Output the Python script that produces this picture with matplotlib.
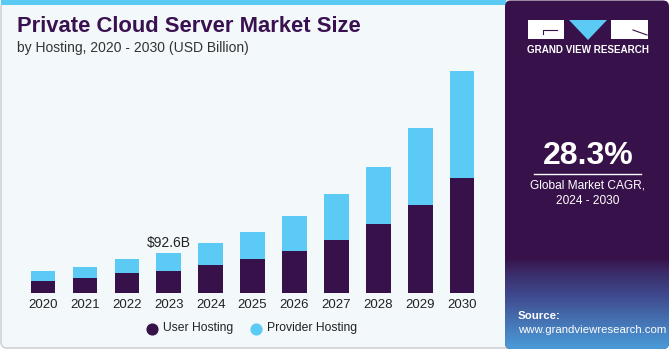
import numpy as np
import matplotlib.pyplot as plt
from matplotlib.patches import FancyBboxPatch, Rectangle, Polygon
from matplotlib.colors import LinearSegmentedColormap

years = ["2020", "2021", "2022", "2023", "2024", "2025", "2026", "2027", "2028", "2029", "2030"]
user_hosting = [28.7, 35.0, 45.9, 51.3, 65.3, 78.6, 98.0, 123.6, 160.2, 204.6, 269.0]
provider_hosting = [22.6, 26.4, 32.6, 41.3, 50.6, 63.7, 81.6, 107.3, 133.0, 180.3, 248.8]
label_year = "2023"
label_text = "$92.6B"
cagr = "28.3%"

dark = "#371149"
blue = "#5BCBF5"
panel_bg = "#F3F8FB"

plt.rcParams['font.family'] = ['Liberation Sans', 'DejaVu Sans']

W, H = 670, 350
fig = plt.figure(figsize=(W / 100, H / 100), dpi=100)
fig.patch.set_facecolor("white")

# background canvas in pixel coordinates
bg = fig.add_axes([0, 0, 1, 1])
bg.axis("off")

# left light panel
bg.add_patch(FancyBboxPatch((1, 1), 512, 347, boxstyle="round,pad=0,rounding_size=6",
                            facecolor=panel_bg, edgecolor="#D0D3D6", lw=1.2))
bg.add_patch(Rectangle((1, 0), 505, 5, facecolor=blue, edgecolor="none"))

# right purple panel with a bluish fade at the bottom
right_panel = FancyBboxPatch((505, 0.5), 164, 348.5, boxstyle="round,pad=0,rounding_size=6",
                             facecolor=dark, edgecolor="none")
bg.add_patch(right_panel)
grad = np.linspace(0, 1, 100).reshape(-1, 1) ** 0.8
cmap = LinearSegmentedColormap.from_list("g", [dark, "#3F4A8E", "#4B9BD8"])
im = bg.imshow(grad, extent=(505, 669, 349, 258), cmap=cmap, aspect="auto",
               origin="upper", zorder=1)
im.set_clip_path(right_panel)
bg.set_xlim(0, W)
bg.set_ylim(H, 0)

# logo
bg.add_patch(Rectangle((528, 20), 36, 19, facecolor="white", edgecolor="none", zorder=3))
bg.add_patch(Polygon([(569, 20), (607, 20), (588, 40)], facecolor=blue, edgecolor="none", zorder=3))
bg.add_patch(Rectangle((611, 20), 37, 19, facecolor="white", edgecolor="none", zorder=3))
bg.plot([543, 543, 557], [34, 30, 30], color=dark, lw=0.8, zorder=4)
bg.plot([633, 647], [30, 35], color=dark, lw=0.8, zorder=4)
bg.text(588, 50, "GRAND VIEW RESEARCH", color="white", fontsize=7.1, fontweight="bold",
        ha="center", va="center", zorder=4)

bg.text(588, 156, cagr, color="white", fontsize=23, fontweight="bold", ha="center", va="center", zorder=4)
bg.plot([534, 641], [174, 174], color="white", lw=1, zorder=4)
bg.text(588, 186, "Global Market CAGR,", color="white", fontsize=8.6, ha="center", va="center", zorder=4)
bg.text(588, 201, "2024 - 2030", color="white", fontsize=8.6, ha="center", va="center", zorder=4)
bg.text(518, 316, "Source:", color="white", fontsize=8.2, fontweight="bold", ha="left", va="center", zorder=4)
bg.text(518, 330, "www.grandviewresearch.com", color="white", fontsize=8.2, ha="left", va="center", zorder=4)

# titles
bg.text(17, 27, "Private Cloud Server Market Size", color="#3A1150", fontsize=15.8,
        fontweight="bold", ha="left", va="center")
bg.text(17, 48, "by Hosting, 2020 - 2030 (USD Billion)", color="#333333", fontsize=10,
        ha="left", va="center")

# bar chart axes: x center 2020 -> 42.8px, 2030 -> 462.3px; baseline at 293px
step = (462.3 - 42.8) / 10
left_px = 42.8 - step / 2
right_px = 462.3 + step / 2
top_px, base_px = 60, 293
ax = fig.add_axes([left_px / W, (H - base_px) / H, (right_px - left_px) / W, (base_px - top_px) / H])
ax.patch.set_alpha(0)
x = np.arange(len(years))
ax.bar(x, user_hosting, width=0.58, color=dark, edgecolor="none", zorder=2)
ax.bar(x, provider_hosting, bottom=user_hosting, width=0.58, color=blue, edgecolor="none", zorder=2)
ax.set_xlim(-0.5, len(years) - 0.5)
px_per_b = 39.7 / 92.6
ax.set_ylim(0, (base_px - top_px) / px_per_b)
ax.set_xticks(x)
ax.set_xticklabels(years, fontsize=9.5, color="#222222")
ax.tick_params(axis="x", length=0, pad=4)
ax.set_yticks([])
for s in ax.spines.values():
    s.set_visible(False)

i = years.index(label_year)
total = user_hosting[i] + provider_hosting[i]
ax.text(x[i], total + 8, label_text, ha="center", va="bottom", fontsize=10, color="#222222")

# legend
bg.scatter([152], [329], s=60, color=dark, zorder=4)
bg.text(163, 328.5, "User Hosting", fontsize=8.7, color="#222222", ha="left", va="center")
bg.scatter([256], [329], s=60, color=blue, zorder=4)
bg.text(267, 328.5, "Provider Hosting", fontsize=8.7, color="#222222", ha="left", va="center")

fig.savefig("out.png", dpi=100, facecolor=fig.get_facecolor())
